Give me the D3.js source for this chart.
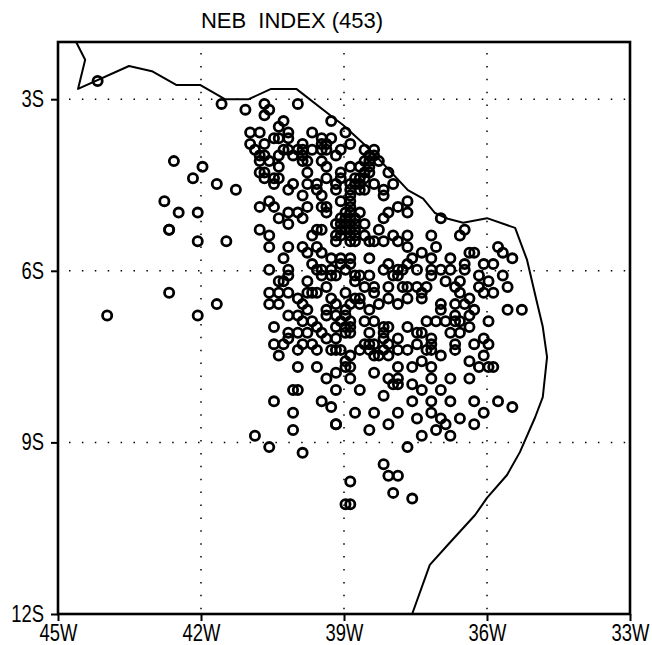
<!DOCTYPE html>
<html>
<head>
<meta charset="utf-8">
<script src="https://cdn.jsdelivr.net/npm/d3@7"></script>
<style>
  body { margin: 0; background: #fff; }
  text { font-family: "Liberation Sans", sans-serif; fill: #000; }
</style>
</head>
<body>
<div id="chart"></div>
<script>
// tick values, degrees west / degrees south
var lonTicks = [45, 42, 39, 36, 33];
var latTicks = [3, 6, 9, 12];

// coastline, degrees west / degrees south
var coastLon = [44.62, 44.43, 44.58, 43.51, 43.03, 42.52, 42.02, 41.5, 41.0, 40.53, 40.0, 39.29, 39.02, 38.6, 38.31, 37.66, 37.34, 37.09, 36.82, 36.5, 36.0, 35.41, 35.16, 34.95, 34.83, 34.74, 34.83, 34.99, 35.31, 35.58, 36.0, 36.25, 36.82, 37.2, 37.57];
var coastLat = [2.0, 2.31, 2.82, 2.42, 2.51, 2.75, 2.75, 3.0, 3.0, 2.82, 2.82, 3.28, 3.45, 3.77, 4.01, 4.59, 4.74, 4.99, 5.09, 5.16, 5.08, 5.25, 5.81, 6.56, 6.98, 7.51, 8.21, 8.56, 9.17, 9.57, 9.97, 10.27, 10.79, 11.14, 12.0];

// stations: one latitude per row, with the longitudes found on that row
var stationLat = [2.7, 3.1, 3.2, 3.3, 3.4, 3.5, 3.6, 3.7, 3.8, 3.9, 4.0, 4.1, 4.2, 4.3, 4.4, 4.5, 4.6, 4.7, 4.8, 4.9, 5.0, 5.1, 5.2, 5.3, 5.4, 5.5, 5.6, 5.7, 5.8, 5.9, 6.0, 6.1, 6.2, 6.3, 6.4, 6.5, 6.6, 6.7, 6.8, 6.9, 7.0, 7.1, 7.2, 7.3, 7.4, 7.5, 7.6, 7.7, 7.8, 7.9, 8.0, 8.1, 8.2, 8.3, 8.4, 8.5, 8.6, 8.7, 8.8, 8.9, 9.1, 9.2, 9.4, 9.6, 9.7, 9.9, 10.0, 10.1];
var stationLon = [
  [44.2],
  [41.6, 40.7, 40.0],
  [41.1, 40.6],
  [40.7],
  [40.3, 39.3],
  [40.4],
  [41.0, 40.8, 40.2, 39.7, 39.0],
  [40.5, 40.4, 40.2, 39.5, 39.3],
  [41.0, 40.7, 39.9, 39.5, 39.4, 38.9],
  [40.9, 40.3, 40.2, 40.0, 39.9, 39.7, 39.5, 39.4, 39.1, 38.6, 38.4],
  [40.8, 40.7, 40.4, 40.1, 39.9, 39.2, 38.5, 38.4],
  [42.6, 40.8, 40.6, 39.9, 39.8, 39.5, 38.6, 38.5, 38.3],
  [42.0, 40.4, 39.4, 38.9, 38.7, 38.5],
  [40.8, 40.7, 39.8, 39.1, 38.6, 38.5, 38.1],
  [42.2, 40.7, 40.5, 40.4, 39.4, 39.1, 38.8, 38.7, 38.6],
  [41.7, 40.5, 40.1, 39.8, 39.6, 39.2, 38.9, 38.8, 38.7, 38.4, 38.0],
  [41.3, 40.2, 39.6, 39.2, 38.9, 38.7, 38.6, 38.2],
  [39.9, 39.5, 38.9, 38.2],
  [42.8, 40.6, 39.1, 38.9, 37.7],
  [40.8, 40.5, 39.8, 39.5, 39.4, 38.9, 37.9],
  [42.5, 42.1, 40.2, 40.0, 39.4, 39.0, 38.9, 38.7, 38.1, 37.7],
  [40.4, 39.9, 39.1, 39.0, 38.9, 38.8, 38.2, 37.0],
  [40.2, 39.2, 39.1, 39.0, 38.9, 38.8, 38.6],
  [42.7, 42.7, 40.8, 39.6, 39.5, 39.1, 39.0, 38.9, 38.8, 38.3, 36.5],
  [40.6, 39.7, 39.2, 39.1, 38.9, 38.8, 38.6, 38.0, 37.7, 37.2, 36.6],
  [42.1, 41.5, 39.2, 38.9, 38.8, 38.5, 38.4, 38.2, 37.9],
  [40.6, 40.2, 39.9, 39.6, 37.7, 37.1, 35.8],
  [39.8, 39.5, 37.4, 36.4, 36.3, 35.7],
  [40.3, 39.3, 39.1, 38.9, 38.5, 37.6, 37.2, 36.8, 35.5],
  [39.7, 39.1, 38.9, 38.1, 37.7, 36.5, 36.1, 35.9],
  [40.6, 40.2, 39.6, 39.5, 39.3, 39.0, 38.2, 37.9, 37.8, 37.5, 37.2, 37.0, 36.8, 36.5],
  [40.2, 39.5, 39.3, 39.2, 38.8, 38.7, 38.5, 38.0, 37.9, 37.2, 36.2, 35.7],
  [40.4, 40.3, 39.8, 38.8, 36.9, 36.6, 36.0],
  [39.4, 38.6, 38.4, 38.1, 37.8, 37.7, 37.5, 37.3, 36.7, 36.2, 35.6],
  [42.7, 40.6, 40.4, 40.2, 39.8, 39.7, 39.6, 39.0, 38.4, 37.4, 36.6, 36.1, 35.9],
  [40.0, 39.3, 38.8, 38.7, 38.1, 37.7, 37.4, 36.4],
  [41.7, 40.6, 40.4, 39.9, 39.2, 38.9, 38.7, 38.3, 37.9, 37.0, 36.7, 36.5],
  [39.8, 39.4, 39.0, 38.5, 37.0, 36.3, 35.6, 35.3],
  [44.0, 42.1, 40.2, 40.0, 39.4, 39.2, 39.0, 36.7, 36.4],
  [39.9, 39.7, 39.1, 38.9, 38.6, 38.4, 37.3, 37.1, 36.9, 36.7, 36.6, 36.0],
  [40.5, 39.6, 39.2, 39.0, 38.9, 38.2, 38.1, 37.7, 36.4],
  [40.2, 40.0, 39.8, 39.5, 39.0, 38.9, 38.5, 38.2, 37.5, 37.4, 36.8, 36.6],
  [40.2, 39.4, 39.2, 38.2, 37.9, 37.2, 36.1],
  [40.5, 40.3, 39.9, 39.7, 38.6, 38.5, 38.4, 38.1, 37.5, 37.2, 36.7, 36.3, 36.0],
  [40.0, 39.6, 39.3, 39.2, 39.1, 38.7, 38.5, 38.2, 37.9, 37.7, 37.3, 37.2, 36.7],
  [40.4, 38.9, 38.4, 38.3, 38.1, 37.0, 36.1],
  [39.0, 37.4, 36.4],
  [40.0, 39.6, 39.0, 38.9, 37.9, 37.6, 37.2, 36.2, 36.0, 35.9],
  [39.2, 38.4],
  [39.4, 38.9, 38.1, 37.9, 37.2, 36.8, 36.4],
  [38.0, 37.9, 37.6],
  [40.1, 40.0, 39.2, 38.7, 37.4, 37.0],
  [38.2],
  [40.5, 39.5, 37.6, 37.2, 36.8, 36.3, 35.8],
  [39.3, 35.5],
  [40.1, 38.8, 38.4, 37.9, 37.2, 36.1],
  [37.5, 37.0, 36.6],
  [39.2, 39.2, 38.1, 36.9, 36.3],
  [40.1, 38.5, 37.1],
  [40.9, 37.4, 36.8],
  [40.6, 37.7],
  [39.9],
  [38.2],
  [38.1, 37.9],
  [38.9],
  [38.0],
  [37.6],
  [39.0, 38.9]
];

var titleText = "NEB  INDEX (453)";

var margin = {top: 42, right: 22, bottom: 31, left: 58},
    width = 652 - margin.left - margin.right,
    height = 645 - margin.top - margin.bottom;

var svg = d3.select("#chart")
  .append("svg")
    .attr("width", 652)
    .attr("height", 645)
    .style("display", "block");

var g = svg.append("g")
    .attr("transform", "translate(" + margin.left + "," + margin.top + ")");

var x = d3.scaleLinear().domain([45, 33]).range([0, width]);
var y = d3.scaleLinear().domain([2, 12]).range([0, height]);

// dotted grid
g.selectAll("vgrid")
  .data(lonTicks.slice(1, -1))
  .enter()
  .append("line")
    .attr("x1", function(d) { return x(d) })
    .attr("x2", function(d) { return x(d) })
    .attr("y1", 0)
    .attr("y2", height);
g.selectAll("hgrid")
  .data(latTicks.slice(0, -1))
  .enter()
  .append("line")
    .attr("x1", 0)
    .attr("x2", width)
    .attr("y1", function(d) { return y(d) })
    .attr("y2", function(d) { return y(d) });
g.selectAll("line")
    .attr("stroke", "#000")
    .attr("stroke-width", 1.5)
    .attr("stroke-dasharray", "1.5 11.4")
    .attr("stroke-dashoffset", -11);

// coastline
var coastLine = d3.line()
  .x(function(d) { return x(d[0]) })
  .y(function(d) { return y(d[1]) });
g.append("path")
  .attr("d", coastLine(d3.zip(coastLon, coastLat)))
  .attr("fill", "none")
  .attr("stroke", "#000")
  .attr("stroke-width", 2)
  .attr("stroke-linejoin", "round");

// stations
var stations = d3.merge(stationLat.map(function(lat, i) {
  return stationLon[i].map(function(lon) { return {lon: lon, lat: lat}; });
}));
g.append("g")
  .attr("transform", "translate(1.5,-1)")
  .selectAll("station")
  .data(stations)
  .enter()
  .append("circle")
    .attr("cx", function(d) { return x(d.lon) })
    .attr("cy", function(d) { return y(d.lat) })
    .attr("r", 4.6)
    .attr("fill", "none")
    .attr("stroke", "#000")
    .attr("stroke-width", 2.8);

// axes
var xAxis = g.append("g")
  .attr("transform", "translate(0," + height + ")")
  .call(d3.axisBottom(x).tickValues(lonTicks).tickSize(7).tickPadding(4)
    .tickFormat(function(d) { return d + "W" }));
var yAxis = g.append("g")
  .call(d3.axisLeft(y).tickValues(latTicks).tickSize(7).tickPadding(7)
    .tickFormat(function(d) { return d + "S" }));
[xAxis, yAxis].forEach(function(a) {
  a.select(".domain").remove();
  a.selectAll(".tick line").attr("stroke", "#000").attr("stroke-width", 2);
  a.selectAll("text")
    .style("font-size", "23px")
    .style("font-family", '"Liberation Sans", sans-serif')
    .each(function() {
      // the original lettering is narrow, squeeze it to 80%
      var t = d3.select(this);
      t.attr("x", +t.attr("x") / 0.8).attr("transform", "scale(0.8,1)");
    });
});

// frame
g.append("rect")
  .attr("width", width)
  .attr("height", height)
  .attr("fill", "none")
  .attr("stroke", "#000")
  .attr("stroke-width", 2.6);

// title
svg.append("text")
  .attr("x", 292)
  .attr("y", 28)
  .attr("text-anchor", "middle")
  .style("font-size", "22px")
  .style("white-space", "pre")
  .text(titleText);
</script>
</body>
</html>
